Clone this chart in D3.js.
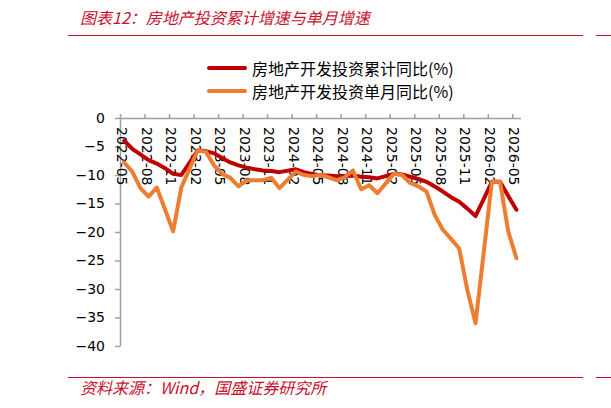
<!DOCTYPE html>
<html>
<head>
<meta charset="utf-8">
<script src="https://cdn.jsdelivr.net/npm/d3@7"></script>
<style>
  body { margin: 0; background: #fff; }
  svg { display: block; }
</style>
</head>
<body>
<div id="chart"></div>
<script>
// months on the category axis (January has no separate figure)
const months = [
  "2022-05","2022-06","2022-07","2022-08","2022-09","2022-10","2022-11","2022-12",
  "2023-01","2023-02","2023-03","2023-04","2023-05","2023-06","2023-07","2023-08",
  "2023-09","2023-10","2023-11","2023-12","2024-01","2024-02","2024-03","2024-04",
  "2024-05","2024-06","2024-07","2024-08","2024-09","2024-10","2024-11","2024-12",
  "2025-01","2025-02","2025-03","2025-04","2025-05","2025-06","2025-07","2025-08",
  "2025-09","2025-10","2025-11","2025-12","2026-01","2026-02","2026-03","2026-04",
  "2026-05"
];

const cumulative = [
  -4.0, -5.4, -6.4, -7.4, -8.0, -8.8, -9.8, -10.0,
  null, -5.7, -5.8, -6.2, -7.0, -7.8, -8.3, -8.7,
  -9.0, -9.2, -9.3, -9.5, null, -9.0, -9.5, -9.8,
  -10.1, -10.1, -10.2, -10.2, -10.1, -10.3, -10.4, -10.6,
  null, -9.8, -9.9, -10.3, -10.7, -11.2, -12.0, -12.9,
  -13.9, -14.7, -15.9, -17.2, null, -11.2, -11.2, -13.7,
  -16.1
];

const monthly = [
  -7.8, -9.4, -12.3, -13.8, -12.2, -16.0, -19.9, -12.2,
  null, -5.7, -5.9, -8.3, -9.8, -10.5, -12.0, -10.9,
  -10.9, -10.9, -10.5, -12.3, null, -9.4, -10.0, -10.2,
  -10.0, -10.4, -10.9, -10.4, -9.2, -12.5, -11.8, -13.2,
  null, -9.8, -10.0, -11.4, -12.0, -12.9, -17.0, -19.6,
  -21.2, -22.9, -30.2, -36.0, null, -11.2, -11.2, -19.9,
  -24.6
];

const xLabels = [
  "2022-05","2022-08","2022-11","2023-02","2023-05","2023-08","2023-11","2024-02",
  "2024-05","2024-08","2024-11","2025-02","2025-05","2025-08","2025-11","2026-02","2026-05"
];
const yTicks = [0, -5, -10, -15, -20, -25, -30, -35, -40];

const seriesNames = ["房地产开发投资累计同比(%)", "房地产开发投资单月同比(%)"];
const seriesColors = ["#c00000", "#ed7d31"];

const titleText = "图表12：房地产投资累计增速与单月增速";
const sourceText = "资料来源：Wind，国盛证券研究所";

const w = 611, h = 408;
const plot = { left: 120, right: 520.5, top: 118, bottom: 346 };
const accent = "#c8102e";
const axisColor = "#a0a0a0";

const svg = d3.select("#chart").append("svg")
  .attr("width", w)
  .attr("height", h);

svg.append("rect").attr("width", w).attr("height", h).attr("fill", "#fff");

// header
svg.append("text")
  .attr("x", 80).attr("y", 24)
  .attr("font-family", "'Noto Sans CJK SC', sans-serif")
  .attr("font-size", 16)
  .attr("font-style", "italic")
  .attr("fill", accent)
  .text(titleText);

svg.append("line").attr("x1", 68).attr("x2", 583).attr("y1", 35.5).attr("y2", 35.5)
   .attr("stroke", accent).attr("stroke-width", 1);
svg.append("line").attr("x1", 596).attr("x2", 611).attr("y1", 35.5).attr("y2", 35.5)
   .attr("stroke", accent).attr("stroke-width", 1);

// footer
svg.append("line").attr("x1", 68).attr("x2", 583).attr("y1", 377.5).attr("y2", 377.5)
   .attr("stroke", accent).attr("stroke-width", 1);
svg.append("line").attr("x1", 596).attr("x2", 611).attr("y1", 377.5).attr("y2", 377.5)
   .attr("stroke", accent).attr("stroke-width", 1);

svg.append("text")
  .attr("x", 80).attr("y", 394)
  .attr("font-family", "'Noto Sans CJK SC', sans-serif")
  .attr("font-size", 16)
  .attr("font-style", "italic")
  .attr("fill", accent)
  .text(sourceText);

// scales
const xIdx = d3.scaleLinear()
  .domain([0, months.length])
  .range([plot.left, plot.right]);

const yScale = d3.scaleLinear()
  .domain([-40, 0])
  .range([plot.bottom, plot.top]);

const xPos = i => xIdx(i + 0.5);

// y axis
const yAxis = d3.axisLeft(yScale)
  .tickValues(yTicks)
  .tickSize(5)
  .tickSizeOuter(0)
  .tickPadding(10);

const gy = svg.append("g")
  .attr("transform", `translate(${plot.left},0)`)
  .call(yAxis);
gy.select(".domain").attr("stroke", axisColor).attr("stroke-width", 1.5);
gy.selectAll(".tick line").attr("stroke", axisColor).attr("stroke-width", 1.5);
gy.selectAll(".tick text")
  .attr("font-family", "'DejaVu Sans', sans-serif")
  .attr("font-size", 14)
  .attr("fill", "#000");

// x axis along the zero line, ticks pointing up
const labelIdx = xLabels.map(m => months.indexOf(m));
const xAxis = d3.axisTop(xIdx)
  .tickValues(labelIdx)
  .tickSize(4)
  .tickSizeOuter(0)
  .tickFormat("");

const gx = svg.append("g")
  .attr("transform", `translate(0,${yScale(0)})`)
  .call(xAxis);
gx.select(".domain").attr("stroke", axisColor).attr("stroke-width", 1.5);
gx.selectAll(".tick line").attr("stroke", axisColor).attr("stroke-width", 1.5);

svg.append("g").selectAll("text")
  .data(xLabels)
  .enter()
  .append("text")
  .attr("transform", d => `translate(${xIdx(months.indexOf(d)) + 2},${yScale(0) + 9}) rotate(90)`)
  .attr("text-anchor", "start")
  .attr("dominant-baseline", "central")
  .attr("font-family", "'DejaVu Sans', sans-serif")
  .attr("font-size", 14)
  .attr("fill", "#000")
  .text(d => d);

// lines
const line = d3.line()
  .x(d => xPos(d.i))
  .y(d => yScale(d.v));

[cumulative, monthly].forEach((values, k) => {
  const pts = values.map((v, i) => ({ i, v })).filter(d => d.v !== null);
  svg.append("path")
    .datum(pts)
    .attr("fill", "none")
    .attr("stroke", seriesColors[k])
    .attr("stroke-width", 4)
    .attr("stroke-linejoin", "round")
    .attr("stroke-linecap", "round")
    .attr("d", line);
});

// legend
const legend = svg.append("g");
seriesNames.forEach((name, k) => {
  const ly = 68 + k * 23;
  legend.append("line")
    .attr("x1", 209).attr("x2", 245)
    .attr("y1", ly).attr("y2", ly)
    .attr("stroke", seriesColors[k])
    .attr("stroke-width", 4)
    .attr("stroke-linecap", "round");
  legend.append("text")
    .attr("x", 252).attr("y", ly)
    .attr("dominant-baseline", "central")
    .attr("font-family", "'Noto Sans CJK SC', sans-serif")
    .attr("font-size", 16)
    .attr("fill", "#000")
    .text(name);
});
</script>
</body>
</html>
